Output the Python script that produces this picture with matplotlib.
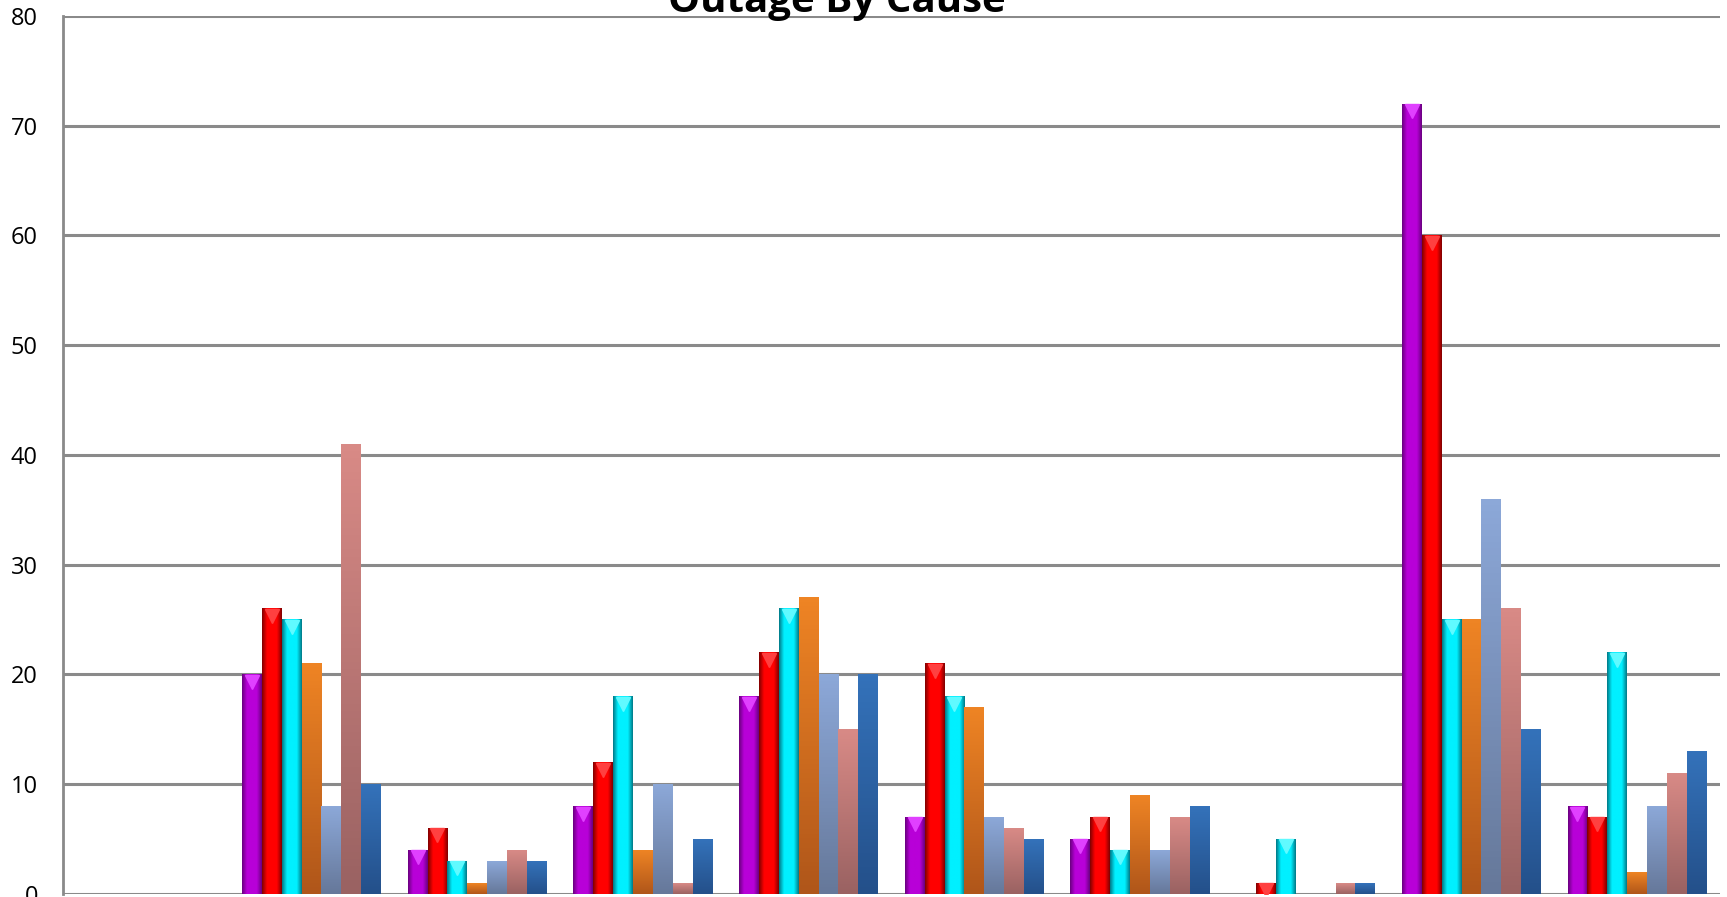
import numpy as np
import matplotlib
matplotlib.use('Agg')
import matplotlib.pyplot as plt
from matplotlib.colors import LinearSegmentedColormap

plt.rcParams['font.family'] = ['Open Sans', 'DejaVu Sans']

# data (10 cause groups, 7 series each)
groups = ['', '', '', '', '', '', '', '', '', '']
s1 = [0, 20, 4, 8, 18, 7, 5, 0, 72, 8]     # purple
s2 = [0, 26, 6, 12, 22, 21, 7, 1, 60, 7]   # red
s3 = [0, 25, 3, 18, 26, 18, 4, 5, 25, 22]  # cyan
s4 = [0, 21, 1, 4, 27, 17, 9, 0, 25, 2]    # orange
s5 = [0, 8, 3, 10, 20, 7, 4, 0, 36, 8]     # light blue
s6 = [0, 41, 4, 1, 15, 6, 7, 1, 26, 11]    # pink
s7 = [0, 10, 3, 5, 20, 5, 8, 1, 15, 13]    # dark blue
series = [s1, s2, s3, s4, s5, s6, s7]

# (top/centre colour, edge/bottom colour, bevelled?, tip colour)
styles = [('#b800d8', '#6a0080', True, '#e040ff'),
          ('#ff0000', '#800000', True, '#ff4040'),
          ('#00f0ff', '#007a88', True, '#60faff'),
          ('#ee8424', '#b0561a', False, None),
          ('#8ca8d8', '#66789a', False, None),
          ('#d88a86', '#9a6262', False, None),
          ('#3472ba', '#24508a', False, None)]

fig = plt.figure(figsize=(17.27, 8.97), dpi=100)
ax = fig.add_axes([63/1727, 3.4/897, (1720-63)/1727, (893.6-16)/897])

x = np.arange(len(groups))
w = 0.12
offs = (np.arange(7) - 3) * w

for vals, off, (c1, c2, bevel, tip) in zip(series, offs, styles):
    bars = ax.bar(x + off, vals, w, color=c1, zorder=3, linewidth=0)
    if bevel:
        cmap = LinearSegmentedColormap.from_list('b', [c2, c1, c1, c1, c2])
        grad = np.linspace(0, 1, 64).reshape(1, -1)
    else:
        cmap = LinearSegmentedColormap.from_list('v', [c2, c1])
        grad = np.linspace(0, 1, 64).reshape(-1, 1)
    for b in bars:
        h = b.get_height()
        if h <= 0:
            continue
        x0 = b.get_x()
        ax.imshow(grad, cmap=cmap, aspect='auto', origin='lower',
                  extent=(x0, x0 + b.get_width(), 0, h), zorder=4)
    if bevel:
        v = np.array(vals, dtype=float)
        keep = v > 0
        ax.plot((x + off)[keep], v[keep] - 0.7, linestyle='none', marker='v',
                markersize=10, color=tip, zorder=5)

ax.set_xlim(-0.5, len(groups) - 0.5)
ax.set_ylim(0, 80)
ax.set_yticks(range(0, 81, 10))
ax.set_xticks([])
ax.yaxis.grid(True, color='#8a8a8a', linewidth=2.2, zorder=1)
ax.set_axisbelow(True)
for sp in ['top', 'right', 'bottom']:
    ax.spines[sp].set_visible(False)
ax.spines['left'].set_color('#8a8a8a')
ax.spines['left'].set_linewidth(2)
ax.tick_params(axis='y', length=0, pad=18, labelsize=17)

fig.text(837/1727, 1 - 12/897, 'Outage By Cause', ha='center', va='baseline',
         fontsize=29, fontweight='bold')

fig.savefig('out.png', dpi=100)
